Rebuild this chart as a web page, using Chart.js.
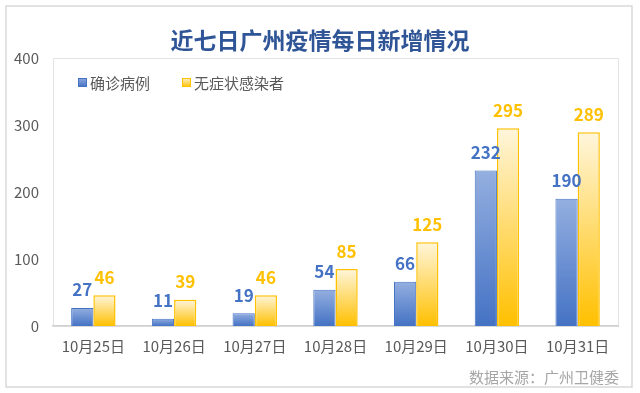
<!DOCTYPE html>
<html>
<head>
<meta charset="utf-8">
<script src="https://cdn.jsdelivr.net/npm/chart.js@4"></script>
<style>
  html, body { margin: 0; padding: 0; background: #fff; }
  #wrap { width: 640px; height: 393px; }
</style>
</head>
<body>
<div id="wrap"><canvas id="covid-chart" width="640" height="393"></canvas></div>
<script>
const titleText = '近七日广州疫情每日新增情况';
const sourceText = '数据来源：广州卫健委';
const days = ['10月25日', '10月26日', '10月27日', '10月28日', '10月29日', '10月30日', '10月31日'];
const confirmed = [27, 11, 19, 54, 66, 232, 190];
const asymptomatic = [46, 39, 46, 85, 125, 295, 289];
const seriesNames = ['确诊病例', '无症状感染者'];
const yTicks = [0, 100, 200, 300, 400];

const FONT = '"Noto Sans CJK SC", "Noto Sans", sans-serif';
const BLUE = '#4472c4';
const GOLD = '#ffc000';

function barGradient(ctx, top, bottom) {
    const chart = ctx.chart;
    const y = chart.scales.y;
    if (!chart.chartArea || !y) return bottom;
    const v = ctx.raw || 0;
    const g = chart.ctx.createLinearGradient(0, y.getPixelForValue(v), 0, y.getPixelForValue(0));
    g.addColorStop(0, top);
    g.addColorStop(1, bottom);
    return g;
}

const decor = {
    id: 'decor',
    beforeDraw(chart) {
        const c = chart.ctx;
        c.save();
        c.fillStyle = '#fff';
        c.fillRect(0, 0, chart.width, chart.height);
        c.strokeStyle = '#d9d9d9';
        c.lineWidth = 1.5;
        c.strokeRect(6, 6, 626, 381);
        const a = chart.chartArea;
        c.lineWidth = 1;
        c.strokeStyle = '#e3e3e3';
        c.strokeRect(a.left + 0.5, a.top + 0.5, a.right - a.left, a.bottom - a.top);
        c.restore();
    },
    afterDraw(chart) {
        const c = chart.ctx;
        const a = chart.chartArea;
        c.save();
        // title
        c.font = 'bold 23px ' + FONT;
        c.fillStyle = '#2f5597';
        c.textAlign = 'center';
        c.textBaseline = 'middle';
        c.fillText(titleText, 320, 40);
        // legend
        c.font = '15px ' + FONT;
        c.textAlign = 'left';
        let x = 78;
        chart.data.datasets.forEach((ds, i) => {
            const g = c.createLinearGradient(0, 78, 0, 87);
            g.addColorStop(0, i === 0 ? '#8fa9dc' : '#fff2cc');
            g.addColorStop(1, i === 0 ? BLUE : GOLD);
            c.fillStyle = g;
            c.fillRect(x, 78, 9, 9);
            c.strokeStyle = i === 0 ? BLUE : GOLD;
            c.lineWidth = 1;
            c.strokeRect(x + 0.5, 78.5, 8, 8);
            c.fillStyle = '#595959';
            c.fillText(ds.label, x + 12, 83);
            x += 104;
        });
        // value labels
        c.font = 'bold 17px ' + FONT;
        c.textAlign = 'center';
        chart.data.datasets.forEach((ds, i) => {
            const meta = chart.getDatasetMeta(i);
            c.fillStyle = i === 0 ? BLUE : GOLD;
            meta.data.forEach((bar, j) => {
                c.fillText(String(ds.data[j]), bar.x, bar.y - 18);
            });
        });
        // source
        c.font = '15px ' + FONT;
        c.fillStyle = '#a6a6a6';
        c.textAlign = 'right';
        c.fillText(sourceText, 619, 377);
        c.restore();
    }
};

new Chart(document.getElementById('covid-chart'), {
    type: 'bar',
    data: {
        labels: days,
        datasets: [{
            label: seriesNames[0],
            data: confirmed,
            backgroundColor: ctx => barGradient(ctx, '#94afe0', BLUE),
            borderColor: BLUE,
            borderWidth: 1
        }, {
            label: seriesNames[1],
            data: asymptomatic,
            backgroundColor: ctx => barGradient(ctx, '#fff6dc', GOLD),
            borderColor: GOLD,
            borderWidth: 1.5
        }]
    },
    options: {
        responsive: false,
        animation: false,
        devicePixelRatio: 1,
        layout: { padding: { left: 8, right: 22, top: 58, bottom: 27 } },
        plugins: {
            legend: { display: false },
            tooltip: { enabled: false }
        },
        datasets: {
            bar: { categoryPercentage: 0.55, barPercentage: 1 }
        },
        scales: {
            x: {
                grid: { display: false, drawTicks: false },
                border: { color: '#d0d0d0', width: 1.5 },
                ticks: { color: '#595959', font: { size: 15, family: FONT }, padding: 11 },
                afterFit: s => { s.height = 40; }
            },
            y: {
                min: 0,
                max: 400,
                grid: { display: false, drawTicks: false },
                border: { display: false },
                afterBuildTicks: s => { s.ticks = yTicks.map(v => ({ value: v })); },
                ticks: { color: '#595959', font: { size: 15, family: FONT }, padding: 14 },
                afterFit: s => { s.width = 45; }
            }
        }
    },
    plugins: [decor]
});
</script>
</body>
</html>
